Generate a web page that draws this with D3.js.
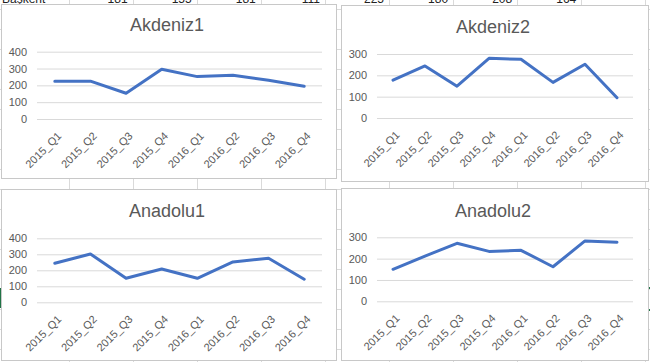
<!DOCTYPE html>
<meta charset="utf-8">
<style>
html, body {
  margin: 0;
  padding: 0;
  background: #fff;
}
svg {
  display: block;
  font-family: "Liberation Sans", Arial, sans-serif;
}
.grid line {
  stroke: #d9d9d9;
  stroke-width: 1;
}
.tick text {
  fill: #595959;
  font-size: 11px;
}
.title {
  fill: #595959;
  font-size: 18px;
}
</style>
<svg width="650" height="362"></svg>
<script src="https://cdn.jsdelivr.net/npm/d3@7"></script>
<script>
// values
const categories = ['2015_Q1', '2015_Q2', '2015_Q3', '2015_Q4', '2016_Q1', '2016_Q2', '2016_Q3', '2016_Q4'];
const akdeniz1 = [225, 225, 153, 296, 252, 260, 230, 195];
const akdeniz2 = [177, 244, 149, 280, 275, 167, 252, 95];
const anadolu1 = [244, 302, 150, 208, 150, 252, 275, 144];
const anadolu2 = [150, 212, 272, 234, 239, 162, 283, 277];
const titles = ['Akdeniz1', 'Akdeniz2', 'Anadolu1', 'Anadolu2'];
const yMaxes = [400, 300, 400, 300];

// worksheet cells peeking out above the charts
const sheetTexts = ['Başkent', '181', '155', '181', '111', '225', '180', '208', '164'];

const svg = d3.select('svg');
const width = +svg.attr('width');
const height = +svg.attr('height');

// spreadsheet grid behind the charts
const sheet = svg.append('g').attr('class', 'sheet');
const colX = d3.range(10).map(i => 68.5 + i * 64.1);
const rowY = d3.range(19).map(i => 9.5 + i * 20);
sheet.selectAll('line.col')
  .data(colX)
  .enter()
  .append('line')
  .attr('x1', d => Math.round(d) + 0.5).attr('x2', d => Math.round(d) + 0.5)
  .attr('y1', 0).attr('y2', height)
  .attr('stroke', '#dadada');
sheet.selectAll('line.row')
  .data(rowY)
  .enter()
  .append('line')
  .attr('x1', 0).attr('x2', width)
  .attr('y1', d => d).attr('y2', d => d)
  .attr('stroke', '#dadada');

sheet.append('text')
  .attr('x', 2).attr('y', 3)
  .attr('font-size', 12).attr('fill', '#222')
  .text(sheetTexts[0]);
sheet.selectAll('text.num')
  .data(sheetTexts.slice(1))
  .enter()
  .append('text')
  .attr('class', 'num')
  .attr('x', (d, i) => colX[i + 1] - 5)
  .attr('y', 3)
  .attr('text-anchor', 'end')
  .attr('font-size', 12).attr('fill', '#222')
  .text(d => d);

// green selection marks at the sheet edges
sheet.append('rect').attr('x', 0).attr('y', 288).attr('width', 2).attr('height', 20).attr('fill', '#217346');
sheet.append('rect').attr('x', 648).attr('y', 287).attr('width', 2).attr('height', 2).attr('fill', '#217346');
sheet.append('rect').attr('x', 648).attr('y', 309).attr('width', 2).attr('height', 2).attr('fill', '#217346');

// chart frames and plot areas
const panels = [
  { values: akdeniz1, box: [1, 4, 336, 178], px: [37, 322], py: [119, 51.7], tx: 167, ty: 31 },
  { values: akdeniz2, box: [341, 5, 648, 181], px: [377, 633], py: [118, 54], tx: 493, ty: 33 },
  { values: anadolu1, box: [1, 189, 336, 360], px: [37, 322], py: [302.3, 238.3], tx: 167, ty: 217 },
  { values: anadolu2, box: [341, 188, 648, 360], px: [377, 633], py: [301.3, 237.3], tx: 493, ty: 216.5 }
];

panels.forEach((p, i) => {
  const g = svg.append('g').attr('class', 'chart');

  g.append('rect')
    .attr('x', p.box[0] + 0.5)
    .attr('y', p.box[1] + 0.5)
    .attr('width', p.box[2] - p.box[0])
    .attr('height', p.box[3] - p.box[1])
    .attr('fill', '#fff')
    .attr('stroke', '#c8c8c8');

  g.append('text')
    .attr('class', 'title')
    .attr('x', p.tx)
    .attr('y', p.ty)
    .attr('text-anchor', 'middle')
    .text(titles[i]);

  const x = d3.scalePoint()
    .domain(categories)
    .range(p.px)
    .padding(0.5);
  const y = d3.scaleLinear()
    .domain([0, yMaxes[i]])
    .range(p.py);

  const yAxis = g.append('g')
    .attr('class', 'grid')
    .attr('transform', `translate(${p.px[0]},0)`)
    .call(d3.axisLeft(y)
      .ticks(yMaxes[i] / 100)
      .tickSize(-(p.px[1] - p.px[0]))
      .tickPadding(10));
  yAxis.select('.domain').remove();
  yAxis.selectAll('.tick line').attr('stroke', '#d9d9d9');

  const xAxis = g.append('g')
    .attr('transform', `translate(0,${p.py[0]})`)
    .call(d3.axisBottom(x).tickSize(0));
  xAxis.select('.domain').remove();
  xAxis.selectAll('.tick text')
    .attr('x', 0)
    .attr('y', 0)
    .attr('dy', '0.35em')
    .attr('text-anchor', 'end')
    .attr('transform', 'translate(4,15) rotate(-45)');

  const line = d3.line()
    .x((d, k) => x(categories[k]))
    .y(d => y(d));

  g.append('path')
    .datum(p.values)
    .attr('fill', 'none')
    .attr('stroke', '#4472c4')
    .attr('stroke-width', 3)
    .attr('stroke-linejoin', 'round')
    .attr('stroke-linecap', 'round')
    .attr('d', line);
});
</script>
